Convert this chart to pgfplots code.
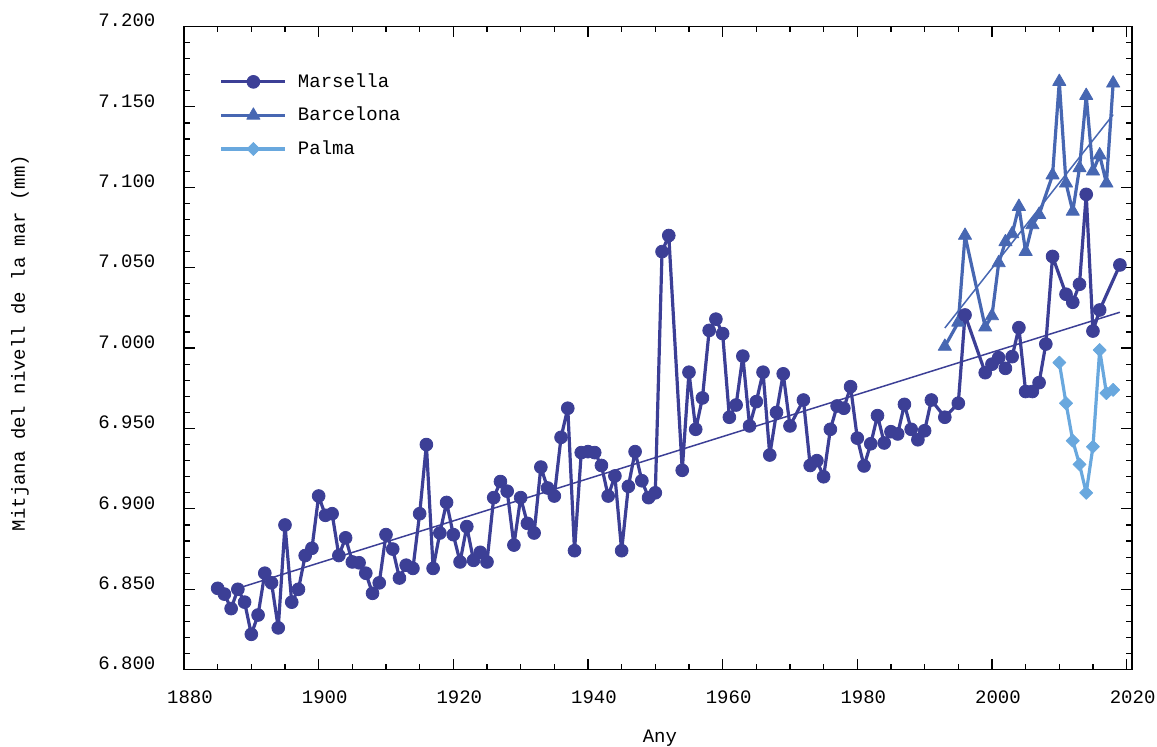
\documentclass[border=0pt]{standalone}
\usepackage{fontspec}
\setmainfont{Liberation Mono}
\usepackage{pgfplots}
\pgfplotsset{compat=1.18}
\definecolor{marsella}{HTML}{3C3F96}
\definecolor{barcelona}{HTML}{4767B2}
\definecolor{palma}{HTML}{69A8DE}

\pgfplotsset{
  mars/.style={color=marsella, line width=1.6pt, line join=round, mark=*, mark size=3.2pt, mark options={line width=0.4pt}},
  barc/.style={color=barcelona, line width=1.6pt, line join=round, mark=triangle*, mark size=3.8pt, mark options={line width=0.4pt}},
  palm/.style={color=palma, line width=1.6pt, line join=round, mark=square*, mark size=2.3pt, mark options={line width=0.4pt, rotate=45}},
}

\begin{document}
\begin{tikzpicture}
\path[use as bounding box] (0,0) rectangle (578.5pt,373.5pt);
\begin{axis}[
    at={(92pt,38.65pt)}, anchor=south west,
    width=474pt, height=321.6pt, scale only axis,
    xmin=1880, xmax=2020.8,
    ymin=6800, ymax=7200,
    xtick={1880,1900,...,2020},
    ytick={6800,6850,...,7200},
    minor x tick num=3, minor y tick num=4,
    major tick length=5.5pt, minor tick length=3pt,
    every tick/.style={black, line width=0.6pt},
    axis line style={line width=0.75pt},
    scaled y ticks=false,
    /pgf/number format/assume math mode=true,
    tick label style={font=\fontsize{9.5}{11}\selectfont},
    xticklabel style={/pgf/number format/1000 sep={}, xshift=3pt, yshift=-6.8pt},
    yticklabel style={/pgf/number format/1000 sep={.}, xshift=-10.8pt, yshift=3pt},
    xlabel={Any},
    ylabel={Mitjana del nivell de la mar (mm)},
    label style={font=\fontsize{9.5}{11}\selectfont},
    xlabel style={at={(axis description cs:0.502,-0.106)}, anchor=center},
    ylabel style={at={(axis description cs:-0.173,0.508)}, anchor=center},
    legend cell align=left,
    legend image code/.code={\draw[mark repeat=2,mark phase=2,#1] plot coordinates {(0pt,0pt)(16pt,0pt)(32pt,0pt)};},
    legend style={draw=none, fill=none, at={(axis description cs:0.031,0.94)}, anchor=north west,
      font=\fontsize{9.5}{11}\selectfont, row sep=4.4pt,
      /tikz/every odd column/.append style={column sep=3.5pt}},
]

% trend lines
\addplot[forget plot, marsella, line width=0.75pt] coordinates {(1888,6850.6) (2019,7022.3)};
\addplot[forget plot, barcelona, line width=0.75pt] coordinates {(1993,7012.5) (2018,7145.2)};

% Barcelona
\addplot[forget plot, barc] coordinates {
 (1993,7001) (1995,7016) (1996,7070) (1999,7013) (2000,7020) (2001,7053)
 (2002,7066) (2003,7071) (2004,7088) (2005,7060) (2006,7076.6) (2007,7083)
 (2009,7107.6) (2010,7165.7) (2011,7102.5) (2012,7085) (2013,7112) (2014,7157)
 (2015,7110) (2016,7120) (2017,7102.5) (2018,7164.7)
};

% Marsella
\addplot[forget plot, mars] coordinates {
 (1885,6850.6) (1886,6847) (1887,6838) (1888,6850) (1889,6842) (1890,6822)
 (1891,6834) (1892,6860) (1893,6854) (1894,6826) (1895,6890) (1896,6842)
 (1897,6850) (1898,6871) (1899,6875.5) (1900,6908) (1901,6896) (1902,6897)
 (1903,6871) (1904,6882) (1905,6867) (1906,6866.5) (1907,6860) (1908,6847.5)
 (1909,6854) (1910,6884) (1911,6875) (1912,6857) (1913,6865) (1914,6863)
 (1915,6897) (1916,6940) (1917,6863) (1918,6885) (1919,6904) (1920,6884)
 (1921,6867) (1922,6889) (1923,6868) (1924,6873) (1925,6867) (1926,6907)
 (1927,6917) (1928,6911) (1929,6877.5) (1930,6907) (1931,6891) (1932,6885)
 (1933,6926) (1934,6913) (1935,6908) (1936,6944.5) (1937,6962.6) (1938,6874)
 (1939,6935) (1940,6935.6) (1941,6935) (1942,6927) (1943,6908) (1944,6920.5)
 (1945,6874) (1946,6914) (1947,6935.6) (1948,6917.5) (1949,6907) (1950,6910)
 (1951,7060) (1952,7070) (1954,6924) (1955,6985) (1956,6949.5) (1957,6969)
 (1958,7011) (1959,7018) (1960,7009) (1961,6957) (1962,6964.6) (1963,6995)
 (1964,6951.6) (1965,6966.7) (1966,6985) (1967,6933.5) (1968,6960) (1969,6984)
 (1970,6951.6) (1972,6967.7) (1973,6927) (1974,6930) (1975,6920) (1976,6949.5)
 (1977,6964) (1978,6962.6) (1979,6976) (1980,6944) (1981,6926.7) (1982,6940.5)
 (1983,6958) (1984,6941) (1985,6948) (1986,6946.6) (1987,6965) (1988,6949.5)
 (1989,6943) (1990,6948.6) (1991,6967.7) (1993,6957) (1995,6965.7) (1996,7020.6)
 (1999,6984.7) (2000,6990) (2001,6994) (2002,6987.4) (2003,6994.7) (2004,7012.7)
 (2005,6973) (2006,6973) (2007,6978.5) (2008,7002.5) (2009,7057) (2011,7033.5)
 (2012,7028.5) (2013,7039.7) (2014,7095.6) (2015,7010.6) (2016,7023.7) (2019,7051.7)
};

% Palma
\addplot[forget plot, palm] coordinates {
 (2010,6991) (2011,6965.7) (2012,6942.4) (2013,6927.7) (2014,6910)
 (2015,6938.7) (2016,6998.8) (2017,6972) (2018,6974)
};

\addlegendimage{mars}
\addlegendentry{Marsella}
\addlegendimage{barc}
\addlegendentry{Barcelona}
\addlegendimage{palm}
\addlegendentry{Palma}

\end{axis}
\end{tikzpicture}
\end{document}
